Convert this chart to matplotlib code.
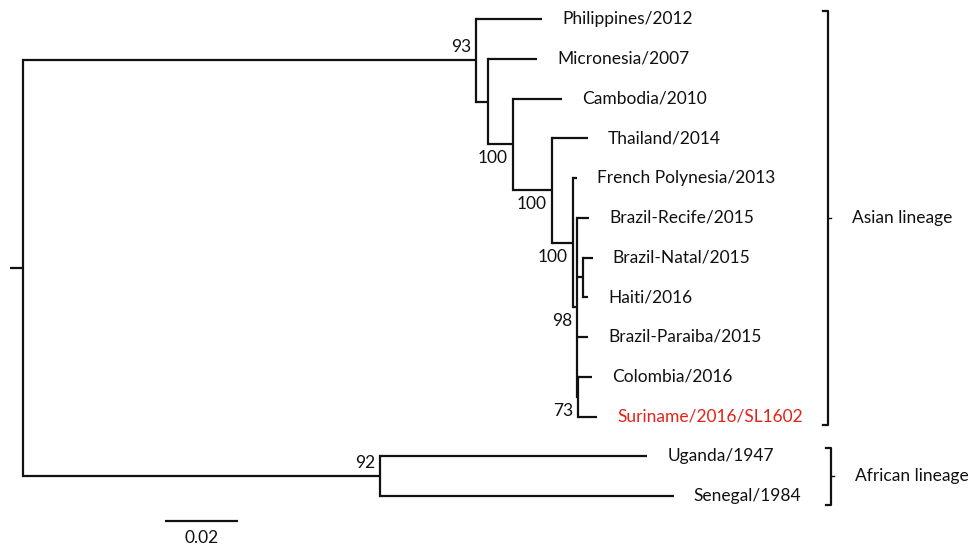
import matplotlib
matplotlib.use("Agg")
import matplotlib.pyplot as plt

plt.rcParams['font.family'] = ['Lato', 'DejaVu Sans']

# tips, top to bottom
tips = ["Philippines/2012", "Micronesia/2007", "Cambodia/2010", "Thailand/2014",
        "French Polynesia/2013", "Brazil-Recife/2015", "Brazil-Natal/2015",
        "Haiti/2016", "Brazil-Paraiba/2015", "Colombia/2016",
        "Suriname/2016/SL1602", "Uganda/1947", "Senegal/1984"]

# tree: node, parent, branch length (substitutions/site)
nodes = ["Asian", "Philippines/2012", "n_mic", "Micronesia/2007", "n_cam",
         "Cambodia/2010", "n_tha", "Thailand/2014", "n_fp", "French Polynesia/2013",
         "n_am", "Brazil-Recife/2015", "n_nh", "Brazil-Natal/2015", "Haiti/2016",
         "Brazil-Paraiba/2015", "n_cs", "Colombia/2016", "Suriname/2016/SL1602",
         "African", "Uganda/1947", "Senegal/1984"]
parents = ["root", "Asian", "Asian", "n_mic", "n_mic",
           "n_cam", "n_cam", "n_tha", "n_tha", "n_fp",
           "n_fp", "n_am", "n_am", "n_nh", "n_nh",
           "n_am", "n_am", "n_cs", "n_cs",
           "root", "African", "African"]
lengths = [0.1241, 0.0181, 0.0033, 0.0134, 0.0068,
           0.0134, 0.0107, 0.0099, 0.0058, 0.0011,
           0.0011, 0.0033, 0.0016, 0.0027, 0.0014,
           0.0030, 0.0003, 0.0038, 0.0052,
           0.0978, 0.0732, 0.0805]
root_stub = 0.0036

# bootstrap support
support_nodes = ["Asian", "n_cam", "n_tha", "n_fp", "n_am", "n_cs", "African"]
support_vals = [93, 100, 100, 100, 98, 73, 92]
support_above = [True, False, False, False, False, False, True]

highlight = "Suriname/2016/SL1602"
lineages = ["Asian lineage", "African lineage"]
lineage_span = [(0, 10), (11, 12)]
scale_len = 0.02

# ---- build tree geometry
children = {}
for n, p in zip(nodes, parents):
    children.setdefault(p, []).append(n)
blen = dict(zip(nodes, lengths))
blen["root"] = 0.0

depth = {}
ypos = {}

def walk(n, d):
    depth[n] = d
    if n in children:
        ys = [walk(c, d + blen[c]) for c in children[n]]
        ypos[n] = (min(ys) + max(ys)) / 2
    else:
        ypos[n] = tips.index(n)
    return ypos[n]

walk("root", 0.0)

# pixel mapping: 0.02 = 73 px, root at x=23 px, tips at 19 + 39.75*i px
W, H = 970, 547
ppu = 73 / 0.02
fig = plt.figure(figsize=(W / 100, H / 100), dpi=100)
ax = fig.add_axes([0, 0, 1, 1])
ax.set_xlim(-23 / ppu, (W - 23) / ppu)
ax.set_ylim((H - 19) / 39.75, -19 / 39.75)
ax.axis("off")

lw = 1.6
col = "#111111"
fs = 12.5

# root stub
ax.plot([-root_stub, 0], [ypos["root"]] * 2, color=col, lw=lw, solid_capstyle="butt")
for n, p in zip(nodes, parents):
    ax.plot([depth[p], depth[n]], [ypos[n]] * 2, color=col, lw=lw, solid_capstyle="butt")
for n, ch in children.items():
    ys = [ypos[c] for c in ch]
    ax.plot([depth[n]] * 2, [min(ys), max(ys)], color=col, lw=lw, solid_capstyle="projecting")

for t in tips:
    ax.annotate(t, (depth[t], ypos[t]), xytext=(20, 0), textcoords="offset pixels",
                ha="left", va="center", fontsize=fs,
                color="#e2231a" if t == highlight else col)

for n, v, above in zip(support_nodes, support_vals, support_above):
    ax.annotate(str(v), (depth[n], ypos[n]), xytext=(-5, 5 if above else -6),
                textcoords="offset pixels", ha="right",
                va="bottom" if above else "top", fontsize=fs, color=col)

# lineage brackets
bx = [(828 - 23) / ppu, (831 - 23) / ppu]
for name, (a, b), x in zip(lineages, lineage_span, bx):
    y0, y1 = a - 0.2, b + 0.22
    ax.plot([x - 5 / ppu, x, x, x - 5 / ppu], [y0, y0, y1, y1], color=col, lw=lw)
    ym = (a + b) / 2
    ax.plot([x, x + 3 / ppu], [ym, ym], color=col, lw=1.0)
    ax.annotate(name, (x, ym), xytext=(24, 0), textcoords="offset pixels",
                ha="left", va="center", fontsize=fs, color=col)

# scale bar
sx = (165 - 23) / ppu
sy = 12.64
ax.plot([sx, sx + scale_len], [sy, sy], color=col, lw=lw, solid_capstyle="butt")
ax.annotate("%.2f" % scale_len, (sx + scale_len / 2, sy), xytext=(0, -9),
            textcoords="offset pixels", ha="center", va="top", fontsize=fs,
            color=col)

fig.savefig("out.png", dpi=100, facecolor="white")
